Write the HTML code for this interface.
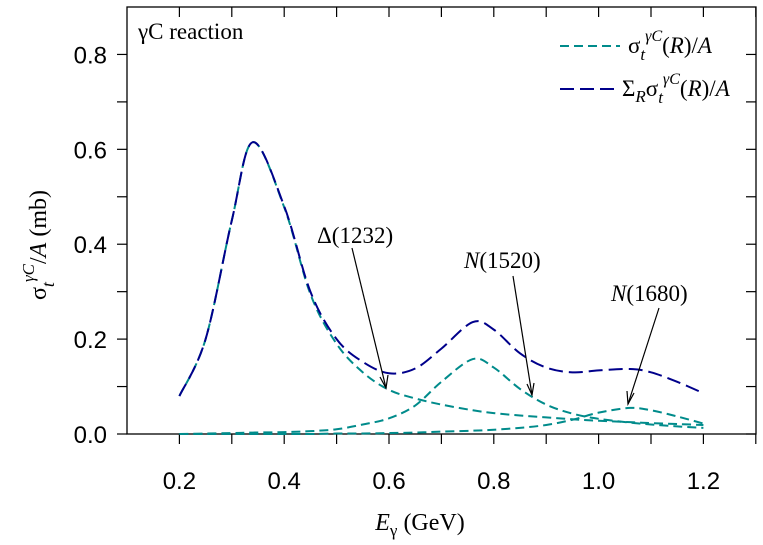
<!DOCTYPE html>
<html><head><meta charset="utf-8"><style>
body{margin:0;background:#fff;}
svg{display:block;}
.t{font-family:"Liberation Sans",sans-serif;font-size:24px;fill:#000;}
.s{font-family:"Liberation Serif",serif;fill:#000;}
</style></head><body>
<svg id="c" width="763" height="545" xmlns="http://www.w3.org/2000/svg">
<g id="axes"></g>
<g id="series"></g>
<text class="s" x="138" y="39" font-size="23">γC reaction</text>
<g>
 <line x1="560" y1="46" x2="620" y2="46" stroke="#008b8b" stroke-width="2" stroke-dasharray="9,5"/>
 <text class="s" x="628" y="53" font-size="23">σ<tspan font-style="italic" font-size="17" dy="7">t</tspan><tspan font-size="16" dy="-19" font-style="italic">γC</tspan><tspan dy="12">(</tspan><tspan font-style="italic">R</tspan>)/<tspan font-style="italic">A</tspan></text>
 <line x1="560" y1="89" x2="617" y2="89" stroke="#00008b" stroke-width="2" stroke-dasharray="14,6"/>
 <text class="s" x="622" y="96" font-size="23">Σ<tspan font-style="italic" font-size="17" dy="6">R</tspan><tspan dy="-6">σ</tspan><tspan font-style="italic" font-size="17" dy="7">t</tspan><tspan font-size="16" dy="-19" font-style="italic">γC</tspan><tspan dy="12">(</tspan><tspan font-style="italic">R</tspan>)/<tspan font-style="italic">A</tspan></text>
</g>
<g>
 <text class="s" x="317" y="243" font-size="23">Δ(1232)</text>
 <text class="s" x="464" y="268" font-size="23"><tspan font-style="italic">N</tspan>(1520)</text>
 <text class="s" x="611" y="301" font-size="23"><tspan font-style="italic">N</tspan>(1680)</text>
 <g stroke="#000" stroke-width="1.2" fill="none">
  <line x1="352" y1="248" x2="386" y2="388"/>
  <polyline points="380,377 386,388 388,375"/>
  <line x1="513" y1="276" x2="532" y2="395"/>
  <polyline points="527,384 532,395 534,383"/>
  <line x1="659" y1="308" x2="628" y2="404"/>
  <polyline points="627,391 628,404 634,393"/>
 </g>
</g>
<text class="s" x="0" y="0" font-size="24" transform="translate(46,245) rotate(-90)" text-anchor="middle">σ<tspan font-style="italic" font-size="18" dy="8">t</tspan><tspan font-size="17" font-style="italic" dy="-20">γC</tspan><tspan dy="12">/</tspan><tspan font-style="italic">A</tspan> (mb)</text>
<text class="s" x="420" y="530" font-size="24" text-anchor="middle"><tspan font-style="italic">E</tspan><tspan font-size="17" dy="6">γ</tspan><tspan dy="-6"> (GeV)</tspan></text>
</svg>
<script>
const xTicks=[0.2,0.4,0.6,0.8,1.0,1.2];
const xTickLabels=["0.2","0.4","0.6","0.8","1.0","1.2"];
const yTicks=[0.0,0.2,0.4,0.6,0.8];
const yTickLabels=["0.0","0.2","0.4","0.6","0.8"];
const energies=[0.2,0.25,0.3,0.34,0.4,0.45,0.5,0.55,0.6,0.65,0.7,0.76,0.8,0.85,0.9,0.95,1.0,1.06,1.1,1.15,1.2];
const sumValues=[0.08,0.2,0.45,0.615,0.48,0.3,0.2,0.152,0.128,0.138,0.18,0.236,0.22,0.17,0.14,0.13,0.134,0.137,0.13,0.11,0.086];
const deltaValues=[0.08,0.2,0.45,0.615,0.478,0.295,0.19,0.13,0.093,0.075,0.062,0.05,0.044,0.039,0.035,0.031,0.028,0.025,0.023,0.021,0.019];
const n1520Values=[0,0.001,0.002,0.003,0.004,0.006,0.01,0.02,0.033,0.06,0.11,0.158,0.14,0.095,0.062,0.043,0.032,0.024,0.02,0.016,0.013];
const n1680Values=[0,0,0,0,0,0,0.001,0.001,0.002,0.003,0.005,0.007,0.009,0.013,0.019,0.03,0.045,0.055,0.05,0.037,0.022];
const X=v=>127+(v-0.1)*524;
const Y=v=>434-v*(427/0.9);
const NS="http://www.w3.org/2000/svg";
function mk(tag,attrs,parent){const e=document.createElementNS(NS,tag);for(const k in attrs)e.setAttribute(k,attrs[k]);parent.appendChild(e);return e;}
const ax=document.getElementById('axes');
const frame=mk('rect',{x:127,y:7,width:629,height:427,fill:'none',stroke:'#000','stroke-width':1.3},ax);


for(let i=1;i<=12;i++){const v=0.1+i*0.1;const x=X(v);
 const t=mk('line',{x1:x,y1:434,x2:x,y2:444,stroke:'#000','stroke-width':1.2},ax);
 
 
 const t2=mk('line',{x1:x,y1:7,x2:x,y2:17,stroke:'#000','stroke-width':1.2},ax);
 
 }
xTicks.forEach((v,i)=>{const t=mk('text',{x:X(v),y:489,'text-anchor':'middle',class:'t'},ax);t.textContent=xTickLabels[i];
 
 });
for(let i=0;i<=8;i++){const y=Y(i*0.1);
 const t=mk('line',{x1:117,y1:y,x2:127,y2:y,stroke:'#000','stroke-width':1.2},ax);
 
 
 const t2=mk('line',{x1:746,y1:y,x2:756,y2:y,stroke:'#000','stroke-width':1.2},ax);
 
 }
yTicks.forEach((v,i)=>{const t=mk('text',{x:107,y:Y(v)+9,'text-anchor':'end',class:'t'},ax);t.textContent=yTickLabels[i];
 
 });
const sg=document.getElementById('series');
function path(vals){const pts=energies.map((e,i)=>[X(e),Y(vals[i])]);
 let d='M'+pts[0][0]+','+pts[0][1];
 for(let i=0;i<pts.length-1;i++){const p0=pts[Math.max(0,i-1)],p1=pts[i],p2=pts[i+1],p3=pts[Math.min(pts.length-1,i+2)];
  const c1=[p1[0]+(p2[0]-p0[0])/6,p1[1]+(p2[1]-p0[1])/6],c2=[p2[0]-(p3[0]-p1[0])/6,p2[1]-(p3[1]-p1[1])/6];
  d+=' C'+c1+' '+c2+' '+p2;}
 return d;}
[[deltaValues,'delta-1232-curve'],[n1520Values,'n1520-curve'],[n1680Values,'n1680-curve']].forEach(([v,n])=>{
 const p=mk('path',{d:path(v),fill:'none',stroke:'#008b8b','stroke-width':2,'stroke-dasharray':'9,5'},sg);
 
 });
const ps=mk('path',{d:path(sumValues),fill:'none',stroke:'#00008b','stroke-width':2,'stroke-dasharray':'14,6'},sg);


</script>
</body></html>
